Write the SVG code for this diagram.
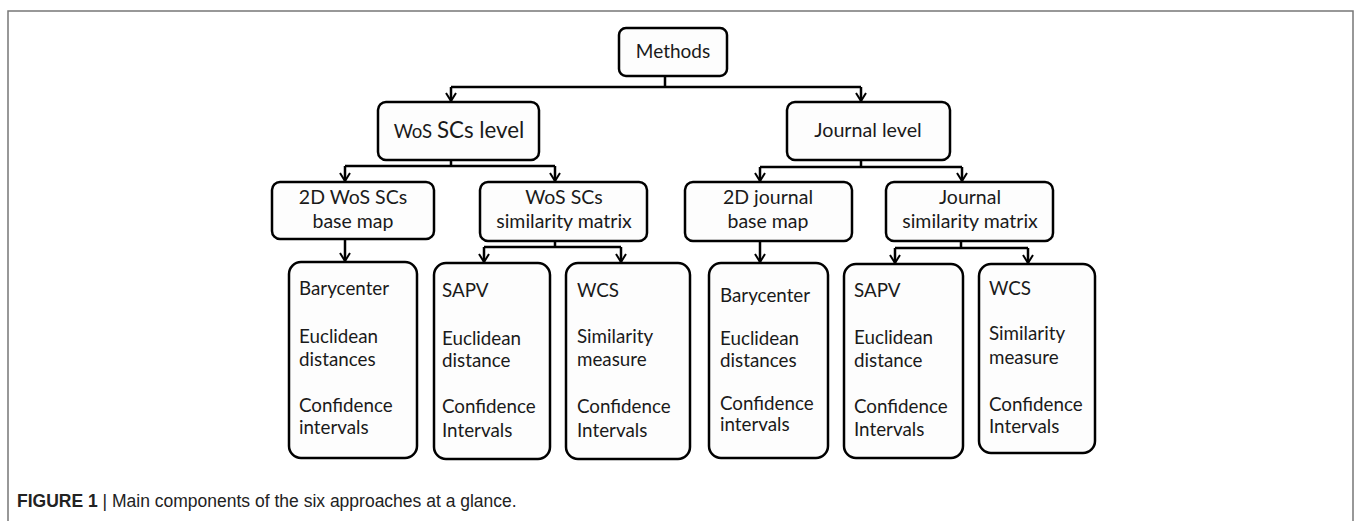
<svg xmlns="http://www.w3.org/2000/svg" width="1356" height="521" viewBox="0 0 1356 521">
<defs>
<style>
.box{fill:#fdfdfd;stroke:#000;stroke-width:2.5}
.t{font-family:Lato,"Liberation Sans",sans-serif;font-size:18.8px;fill:#1a1a1a}
.m{font-size:19.5px}
.c{text-anchor:middle}
.con{fill:none;stroke:#000;stroke-width:2.5}
.frame{fill:none;stroke:#777;stroke-width:1.5}
.cap{font-family:"Liberation Sans",Arial,sans-serif;font-size:17.5px;fill:#222}
</style>
<marker id="ah" viewBox="0 0 10 12" refX="9" refY="6" markerWidth="10" markerHeight="12" markerUnits="userSpaceOnUse" orient="auto">
<path d="M1,1 L9,6 L1,11" fill="none" stroke="#000" stroke-width="2"/>
</marker>
</defs>
<rect width="1356" height="521" fill="#fff"/>
<path class="frame" d="M8,521 V11 H1353 V521"/>

<g id="connectors">
<path class="con" d="M665,76 V87 M451,87 H861"/>
<path class="con" d="M451,87 V101" marker-end="url(#ah)"/>
<path class="con" d="M861,87 V101" marker-end="url(#ah)"/>
<path class="con" d="M451,160 V166 M345,166 H555"/>
<path class="con" d="M345,166 V181" marker-end="url(#ah)"/>
<path class="con" d="M555,166 V181" marker-end="url(#ah)"/>
<path class="con" d="M861,160 V167 M760,167 H962"/>
<path class="con" d="M760,167 V181" marker-end="url(#ah)"/>
<path class="con" d="M962,167 V181" marker-end="url(#ah)"/>
<path class="con" d="M345,239 V261" marker-end="url(#ah)"/>
<path class="con" d="M555,241 V247 M484,247 H621"/>
<path class="con" d="M484,247 V262" marker-end="url(#ah)"/>
<path class="con" d="M621,247 V262" marker-end="url(#ah)"/>
<path class="con" d="M760,241 V262" marker-end="url(#ah)"/>
<path class="con" d="M961,241 V248 M895,248 H1028"/>
<path class="con" d="M895,248 V263" marker-end="url(#ah)"/>
<path class="con" d="M1028,248 V263" marker-end="url(#ah)"/>
</g>

<g id="methods">
<rect class="box" x="619" y="28" width="108" height="48" rx="7"/>
<text class="t c" x="673" y="58" style="font-size:19px">Methods</text>
</g>

<g id="wos-level">
<rect class="box" x="378" y="102" width="161" height="58" rx="8"/>
<text class="t c" x="459" y="138"><tspan style="font-size:18.6px">WoS </tspan><tspan style="font-size:22.3px">SCs level</tspan></text>
</g>

<g id="journal-level">
<rect class="box" x="787" y="102" width="163" height="58" rx="8"/>
<text class="t c" x="868" y="137" style="font-size:19.7px">Journal level</text>
</g>

<g id="wos-map">
<rect class="box" x="272" y="182" width="162" height="57" rx="8"/>
<text class="t m c" x="353" y="204">2D WoS SCs</text>
<text class="t m c" x="353" y="228">base map</text>
</g>

<g id="wos-matrix">
<rect class="box" x="480" y="182" width="167" height="59" rx="8"/>
<text class="t m c" x="564" y="204">WoS SCs</text>
<text class="t m c" x="564" y="228">similarity matrix</text>
</g>

<g id="journal-map">
<rect class="box" x="685" y="182" width="167" height="59" rx="8"/>
<text class="t m c" x="768" y="204">2D journal</text>
<text class="t m c" x="768" y="228">base map</text>
</g>

<g id="journal-matrix">
<rect class="box" x="886" y="182" width="167" height="59" rx="8"/>
<text class="t m c" x="970" y="204">Journal</text>
<text class="t m c" x="970" y="228">similarity matrix</text>
</g>

<g id="wos-barycenter">
<rect class="box" x="289" y="262" width="128" height="196" rx="12"/>
<text class="t" x="299" y="295">Barycenter</text>
<text class="t" x="299" y="343">Euclidean</text>
<text class="t" x="299" y="366">distances</text>
<text class="t" x="299" y="412">Confidence</text>
<text class="t" x="299" y="434">intervals</text>
</g>

<g id="wos-sapv">
<rect class="box" x="434" y="263" width="116" height="196" rx="12"/>
<text class="t" x="442" y="297">SAPV</text>
<text class="t" x="442" y="345">Euclidean</text>
<text class="t" x="442" y="367">distance</text>
<text class="t" x="442" y="413">Confidence</text>
<text class="t" x="442" y="437">Intervals</text>
</g>

<g id="wos-wcs">
<rect class="box" x="566" y="263" width="124" height="196" rx="12"/>
<text class="t" x="577" y="297">WCS</text>
<text class="t" x="577" y="343">Similarity</text>
<text class="t" x="577" y="366">measure</text>
<text class="t" x="577" y="413">Confidence</text>
<text class="t" x="577" y="437">Intervals</text>
</g>

<g id="journal-barycenter">
<rect class="box" x="709" y="263" width="119" height="195" rx="12"/>
<text class="t" x="720" y="302">Barycenter</text>
<text class="t" x="720" y="345">Euclidean</text>
<text class="t" x="720" y="367">distances</text>
<text class="t" x="720" y="410">Confidence</text>
<text class="t" x="720" y="431">intervals</text>
</g>

<g id="journal-sapv">
<rect class="box" x="844" y="264" width="119" height="194" rx="12"/>
<text class="t" x="854" y="297">SAPV</text>
<text class="t" x="854" y="344">Euclidean</text>
<text class="t" x="854" y="367">distance</text>
<text class="t" x="854" y="413">Confidence</text>
<text class="t" x="854" y="436">Intervals</text>
</g>

<g id="journal-wcs">
<rect class="box" x="979" y="264" width="116" height="189" rx="12"/>
<text class="t" x="989" y="295">WCS</text>
<text class="t" x="989" y="340">Similarity</text>
<text class="t" x="989" y="364">measure</text>
<text class="t" x="989" y="411">Confidence</text>
<text class="t" x="989" y="433">Intervals</text>
</g>

<g id="caption">
<text class="cap" x="17" y="507"><tspan font-weight="bold">FIGURE 1</tspan> | Main components of the six approaches at a glance.</text>
</g>
</svg>
